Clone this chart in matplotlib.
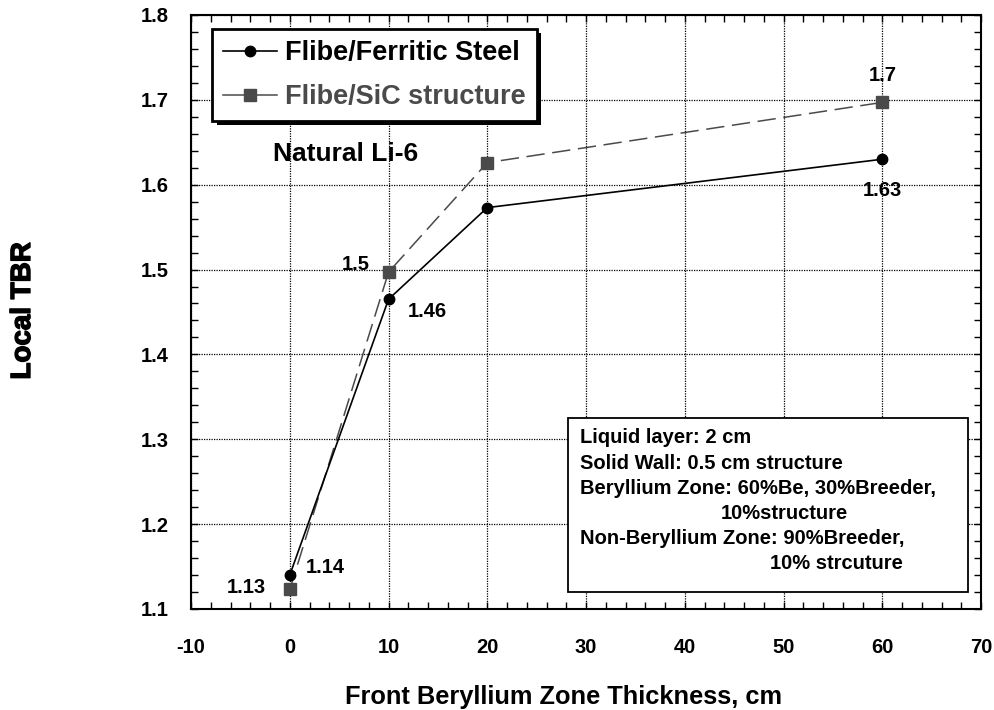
import numpy as np
from matplotlib import pyplot as plt
from matplotlib.patches import Rectangle
import matplotlib.patheffects as pe
from matplotlib.ticker import MultipleLocator

plt.rcParams['font.family'] = ['Liberation Sans', 'DejaVu Sans']
plt.rcParams['font.weight'] = 'bold'
plt.rcParams['axes.unicode_minus'] = False

# front beryllium zone thickness, cm
thickness = [0, 10, 20, 60]
tbr_ferritic = [1.14, 1.465, 1.573, 1.630]
tbr_sic = [1.123, 1.497, 1.626, 1.697]

# value labels written next to some points
lab_ferritic = ["1.14", "1.46", "", "1.63"]
lab_sic = ["1.13", "1.5", "", "1.7"]

note_lines = ["Liquid layer: 2 cm",
              "Solid Wall: 0.5 cm structure",
              "Beryllium Zone: 60%Be, 30%Breeder,",
              "10%structure",
              "Non-Beryllium Zone: 90%Breeder,",
              "10% strcuture"]

fig = plt.figure(figsize=(9.95, 7.10), dpi=100)
ax = fig.add_axes([0.192, 0.1423, 0.794, 0.8366])

sic_col = "#4a4a4a"
ax.plot(thickness, tbr_ferritic, color="k", lw=1.2, marker="o", ms=7.5,
        label="Flibe/Ferritic Steel", zorder=4)
ax.plot(thickness, tbr_sic, color=sic_col, lw=1.1, marker="s", ms=8.5,
        dashes=(12, 5), label="Flibe/SiC structure", zorder=3)

ax.set_xlim(-10, 70)
ax.set_ylim(1.1, 1.8)
ax.xaxis.set_major_locator(MultipleLocator(10))
ax.xaxis.set_minor_locator(MultipleLocator(2))
ax.yaxis.set_major_locator(MultipleLocator(0.1))
ax.yaxis.set_minor_locator(MultipleLocator(0.02))
ax.yaxis.set_major_formatter(plt.FuncFormatter(lambda v, p: "%g" % round(v, 2)))

ax.tick_params(which="both", direction="in", top=True, right=True,
               length=5, width=1, labelsize=14.5)
ax.tick_params(axis="x", pad=21)
ax.tick_params(axis="y", pad=16)
for lb in ax.get_xticklabels() + ax.get_yticklabels():
    lb.set_fontweight("bold")
ax.grid(True, which="major", color="k", ls=(0, (1, 1)), lw=0.9)
for s in ax.spines.values():
    s.set_linewidth(1.5)

# point labels
off_f = [(35, 8), (39, -12), None, (0, -31)]
off_s = [(-43, 2), (-33, 8), None, (0, 27)]
for x, y, t, o in zip(thickness, tbr_ferritic, lab_ferritic, off_f):
    if t:
        ax.annotate(t, (x, y), xytext=o, textcoords="offset pixels",
                    ha="center", va="center", fontsize=14.5, fontweight="bold")
for x, y, t, o in zip(thickness, tbr_sic, lab_sic, off_s):
    if t:
        ax.annotate(t, (x, y), xytext=o, textcoords="offset pixels",
                    ha="center", va="center", fontsize=14.5, fontweight="bold")

ax.text(0.104, 0.766, "Natural Li-6", transform=ax.transAxes,
        fontsize=19, fontweight="bold", va="center", ha="left")

leg = ax.legend(loc="upper left", bbox_to_anchor=(0.027, 0.976),
                borderaxespad=0, fontsize=19.5, handlelength=2.0,
                labelspacing=0.68, fancybox=False, framealpha=1,
                edgecolor="k", handletextpad=0.3, borderpad=0.4)
leg.get_frame().set_linewidth(2)
leg.get_frame().set_path_effects([pe.withSimplePatchShadow(offset=(3, -3), shadow_rgbFace="k", alpha=1)])
leg.get_texts()[1].set_color(sic_col)
leg.get_lines()[1].set_linestyle("-")

# box with the case description
ax.add_patch(Rectangle((0.477, 0.0286), 0.5065, 0.293, transform=ax.transAxes,
                       fill=True, fc="white", ec="k", lw=1.3, zorder=5))
xs = [580, 580, 580, 721, 580, 770]
for i, (t, xp) in enumerate(zip(note_lines, xs)):
    ax.text((xp - 191) / 790, (609 - 438 - 25.2 * i) / 594, t,
            transform=ax.transAxes, fontsize=14.5, fontweight="bold",
            ha="left", va="center", zorder=6)

ax.set_xlabel("Front Beryllium Zone Thickness, cm", fontsize=18.3,
              fontweight="bold", va="center")
ax.xaxis.set_label_coords((564 - 191) / 790, -(697 - 609) / 594)
ax.set_ylabel("Local TBR", fontsize=20, fontweight="bold", va="center",
              path_effects=[pe.withStroke(linewidth=1, foreground="k")])
ax.yaxis.set_label_coords(-0.2127, 0.5017)

plt.savefig("out.png", dpi=100)
